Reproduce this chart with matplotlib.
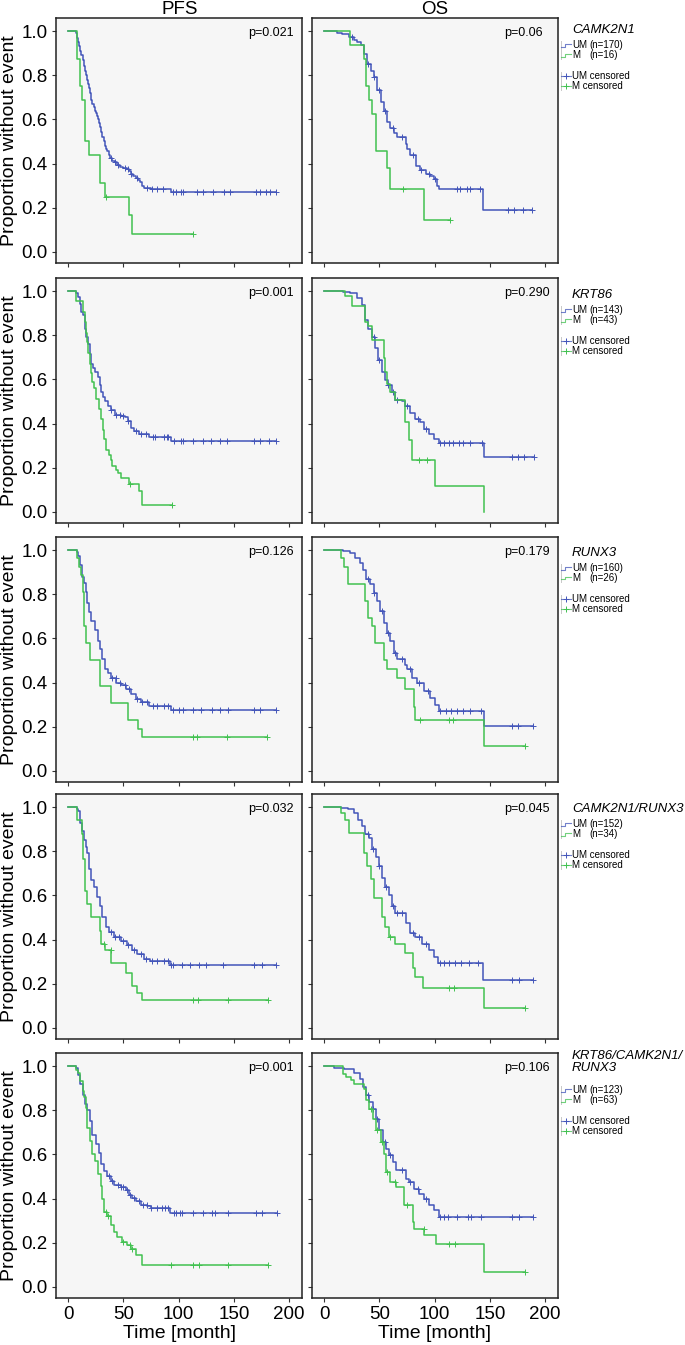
import numpy as np
import matplotlib.pyplot as plt
from matplotlib.lines import Line2D

plt.rcParams['font.family'] = ['Liberation Sans', 'DejaVu Sans']

# values: months, proportion without event
genes = ['CAMK2N1', 'KRT86', 'RUNX3', 'CAMK2N1/RUNX3', 'KRT86/CAMK2N1/\nRUNX3']
n_um = [170, 143, 160, 152, 123]
n_m = [16, 43, 26, 34, 63]
p_pfs = ['p=0.021', 'p=0.001', 'p=0.126', 'p=0.032', 'p=0.001']
p_os = ['p=0.06', 'p=0.290', 'p=0.179', 'p=0.045', 'p=0.106']
x_ticks = [0, 50, 100, 150, 200]
y_ticks = [0.0, 0.2, 0.4, 0.6, 0.8, 1.0]

# row 1: CAMK2N1
pfs1_um_t = [7, 8, 9, 10, 11, 12, 13, 14, 15, 16, 17, 18, 19, 20, 21, 22, 23, 24, 25, 26, 27, 28, 29, 30,
             31, 32, 33, 34, 35, 37, 38, 40, 42, 44, 47, 50, 53, 55, 57, 59, 61, 63, 65, 67, 69, 75, 93]
pfs1_um_s = [0.99, 0.97, 0.95, 0.93, 0.91, 0.89, 0.87, 0.84, 0.82, 0.80, 0.78, 0.76, 0.74, 0.72, 0.69, 0.67,
             0.655, 0.64, 0.63, 0.615, 0.60, 0.585, 0.565, 0.545, 0.52, 0.50, 0.48, 0.465, 0.455, 0.44, 0.425,
             0.41, 0.405, 0.395, 0.385, 0.38, 0.375, 0.365, 0.355, 0.345, 0.335, 0.325, 0.315, 0.30, 0.29,
             0.285, 0.27]
pfs1_um_c = [39, 42, 45, 51, 54, 57, 62, 71, 76, 80, 86, 95, 98, 102, 104, 117, 122, 131, 141, 146,
             170, 174, 179, 183, 188]
pfs1_m_t = [8, 11, 12.6, 15.6, 19, 28.6, 33, 54.7, 57.7]
pfs1_m_s = [0.875, 0.75, 0.6875, 0.5, 0.4375, 0.3125, 0.25, 0.1667, 0.0833]
pfs1_m_c = [34, 113]

os1_um_t = [12, 16.5, 22.6, 27, 30, 33, 36, 39, 42, 45, 48, 51, 54, 57, 60, 63, 66, 74, 75, 78, 83, 87,
            92, 96, 99, 102, 104, 144]
os1_um_s = [0.99, 0.985, 0.975, 0.96, 0.95, 0.935, 0.897, 0.853, 0.82, 0.79, 0.735, 0.68, 0.637, 0.59,
            0.56, 0.54, 0.52, 0.49, 0.464, 0.44, 0.39, 0.373, 0.353, 0.343, 0.328, 0.297, 0.285, 0.19]
os1_um_c = [25, 40, 45, 50, 55, 62, 70, 80, 88, 95, 100, 120, 123, 129, 132, 141, 166, 172, 180, 188]
os1_m_t = [23, 36, 37.5, 40.5, 43.5, 47, 56.5, 60, 90]
os1_m_s = [0.9375, 0.875, 0.75, 0.6875, 0.625, 0.458, 0.38, 0.286, 0.143]
os1_m_c = [71, 114]

# row 2: KRT86
pfs2_um_t = [7.5, 9, 10.5, 12, 13.5, 15, 16.5, 18, 19.5, 21, 22.5, 24, 27, 28.5, 30, 31.5, 33, 36, 39, 42,
             48, 51, 54, 57, 60, 64.5, 73.5, 93]
pfs2_um_s = [0.99, 0.974, 0.94, 0.906, 0.89, 0.83, 0.79, 0.76, 0.717, 0.67, 0.65, 0.635, 0.61, 0.574,
             0.544, 0.52, 0.50, 0.48, 0.46, 0.44, 0.435, 0.43, 0.41, 0.38, 0.366, 0.355, 0.34, 0.322]
pfs2_um_c = [39, 43.5, 46.5, 50, 54, 61.5, 66, 70.5, 76.5, 79, 87, 89, 90, 96, 102, 104, 113, 122, 129,
             137, 144, 168, 174, 182, 188]
pfs2_m_t = [7.5, 13.5, 15, 16, 17, 18, 19.5, 20.5, 21.5, 23, 25.5, 28, 30, 31.5, 32.5, 34, 37, 38.5, 40,
            43, 45, 47.5, 55, 64, 67]
pfs2_m_s = [0.953, 0.907, 0.86, 0.81, 0.77, 0.72, 0.67, 0.63, 0.59, 0.56, 0.51, 0.465, 0.42, 0.37, 0.33,
            0.28, 0.26, 0.235, 0.21, 0.19, 0.175, 0.155, 0.128, 0.093, 0.033]
pfs2_m_c = [56, 94]

os2_um_t = [17.5, 23.5, 29.6, 34, 37, 40, 43, 46, 49, 52, 55, 58, 61, 64, 70, 73, 78, 82, 87, 90, 94.5,
            99, 103.6, 145]
os2_um_s = [0.995, 0.99, 0.967, 0.937, 0.87, 0.83, 0.79, 0.74, 0.687, 0.635, 0.597, 0.574, 0.544, 0.506,
            0.50, 0.48, 0.45, 0.42, 0.405, 0.375, 0.355, 0.332, 0.31, 0.25]
os2_um_c = [45, 50, 58, 62, 66, 75, 85, 92, 105, 108, 112.7, 117, 122, 126, 132, 143, 170, 175, 180.7, 190]
os2_m_t = [19, 25, 37, 40, 43, 54, 55, 57, 60, 64, 73, 76.5, 79.5, 100.6, 144.5]
os2_m_s = [0.977, 0.93, 0.86, 0.84, 0.78, 0.695, 0.635, 0.58, 0.544, 0.506, 0.405, 0.325, 0.234, 0.118, 0.0]
os2_m_c = [85.5, 93]

# row 3: RUNX3
pfs3_um_t = [8, 9, 11, 12.6, 14.4, 16, 17.4, 19, 21, 24, 27, 28.5, 31, 33, 36, 39, 43.5, 48, 52.5, 57,
             61.5, 66, 73.5, 93]
pfs3_um_s = [0.99, 0.973, 0.93, 0.88, 0.85, 0.81, 0.76, 0.72, 0.68, 0.64, 0.59, 0.55, 0.505, 0.46, 0.445,
             0.42, 0.40, 0.39, 0.37, 0.35, 0.325, 0.31, 0.295, 0.276]
pfs3_um_c = [39.5, 43, 47, 51, 55, 62, 66.5, 71, 77, 80, 87, 90, 95, 100, 104, 113, 120, 130, 137, 145,
             168, 174, 188]
pfs3_m_t = [8, 10, 12, 13.5, 14.4, 16.5, 19.5, 29, 39, 54, 63, 67]
pfs3_m_s = [0.962, 0.923, 0.885, 0.808, 0.654, 0.577, 0.5, 0.385, 0.308, 0.231, 0.192, 0.154]
pfs3_m_c = [112.6, 117, 144, 180]

os3_um_t = [14.5, 17.5, 23.5, 28, 32.6, 35.6, 38, 41.7, 44.7, 47.7, 50.8, 53.8, 56.8, 59.8, 62.8, 65.9,
            73, 75, 79.5, 84, 90, 96, 100.6, 103.6, 144.4]
os3_um_s = [0.998, 0.995, 0.985, 0.965, 0.943, 0.91, 0.867, 0.845, 0.807, 0.77, 0.724, 0.67, 0.626, 0.588,
            0.535, 0.508, 0.48, 0.46, 0.42, 0.40, 0.36, 0.33, 0.30, 0.273, 0.204]
os3_um_c = [40, 45, 52, 58, 64, 70, 78, 86, 94, 105, 110, 115, 120, 126, 132, 142, 170, 175, 189]
os3_m_t = [15, 18, 22, 37, 40, 43, 46, 54, 57, 66, 73, 81, 82.5, 144.4]
os3_m_s = [0.962, 0.923, 0.846, 0.769, 0.692, 0.654, 0.577, 0.5, 0.462, 0.423, 0.37, 0.29, 0.23, 0.115]
os3_m_c = [87, 112.7, 117, 182]

# row 4: CAMK2N1/RUNX3
pfs4_um_t = [8, 9, 11, 12.6, 14.4, 16, 17.4, 19, 20.4, 23.4, 26.4, 29, 31, 34, 37, 41.4, 47.4, 53.5, 58,
             62.5, 68.5, 74.5, 92.5]
pfs4_um_s = [0.99, 0.98, 0.927, 0.89, 0.85, 0.82, 0.79, 0.72, 0.67, 0.64, 0.594, 0.55, 0.503, 0.458, 0.435,
             0.412, 0.394, 0.374, 0.352, 0.333, 0.314, 0.303, 0.283]
pfs4_um_c = [39, 42, 46, 50, 54, 60, 66, 70, 76, 80, 87, 90, 93, 95, 103, 110, 118, 125, 140, 168, 175, 188]
pfs4_m_t = [8, 12.3, 13.8, 15.3, 17.4, 20.4, 28.5, 30, 33, 39, 52, 58, 62.5, 67]
pfs4_m_s = [0.941, 0.88, 0.765, 0.618, 0.559, 0.5, 0.441, 0.382, 0.353, 0.294, 0.25, 0.19, 0.16, 0.127]
pfs4_m_c = [32.4, 38.4, 112.6, 117.4, 144.4, 181]

os4_um_t = [14.8, 22, 27, 31, 34.4, 36.8, 40.4, 43.4, 46.5, 49.5, 52.5, 55.5, 58.5, 61.5, 64.5, 74, 78,
            82.6, 88.7, 94.7, 99, 103, 144]
os4_um_s = [0.995, 0.99, 0.973, 0.94, 0.912, 0.88, 0.86, 0.81, 0.776, 0.733, 0.677, 0.64, 0.60, 0.55,
            0.522, 0.473, 0.43, 0.412, 0.382, 0.352, 0.32, 0.294, 0.218]
os4_um_c = [40, 44, 50, 56, 62, 66, 70, 80, 86, 92, 105, 108, 113, 118, 124, 131, 139, 170, 176, 189]
os4_m_t = [14.8, 19.3, 22.3, 36, 39, 42, 45, 52.5, 55.5, 58.5, 64.5, 73.6, 80.5, 82.6, 89.6, 144.5]
os4_m_s = [0.971, 0.941, 0.882, 0.794, 0.735, 0.676, 0.588, 0.5, 0.459, 0.412, 0.382, 0.34, 0.27, 0.23,
           0.182, 0.09]
os4_m_c = [59.4, 112.8, 117.3, 181.6]

# row 5: KRT86/CAMK2N1/RUNX3
pfs5_um_t = [7.5, 9, 10.8, 13, 15, 17.4, 20, 22, 25, 28, 30, 32.5, 35.5, 38.5, 41.5, 47.5, 52, 55, 58, 61,
             65.5, 71.6, 74.6, 92.6]
pfs5_um_s = [0.99, 0.96, 0.92, 0.87, 0.83, 0.80, 0.75, 0.69, 0.645, 0.607, 0.555, 0.523, 0.50, 0.48, 0.46,
             0.453, 0.44, 0.418, 0.403, 0.388, 0.373, 0.365, 0.358, 0.335]
pfs5_um_c = [37, 40, 45, 48, 50, 53, 56, 60, 64, 68, 71, 75, 80, 85, 88, 90, 96, 98, 101, 103, 113, 122,
             130, 133, 145, 170, 175, 189]
pfs5_m_t = [7.5, 9, 10.8, 13, 14.4, 16, 17.4, 19.5, 22, 24, 27, 30, 31, 32.5, 35, 38.5, 41.5, 44.5, 49,
            53.5, 56.5, 61, 67]
pfs5_m_s = [0.984, 0.97, 0.93, 0.887, 0.86, 0.81, 0.72, 0.66, 0.60, 0.57, 0.51, 0.455, 0.40, 0.34, 0.32,
            0.28, 0.25, 0.227, 0.205, 0.19, 0.17, 0.146, 0.098]
pfs5_m_c = [34, 36, 49.5, 56, 58, 93, 113, 118, 145, 181]

os5_um_t = [9, 18, 27, 32, 35, 38, 41, 44, 47, 50, 53, 56, 59, 62, 65, 74, 77, 81.6, 86, 90.6, 95, 99.7, 104]
os5_um_s = [0.99, 0.985, 0.97, 0.943, 0.905, 0.867, 0.837, 0.807, 0.76, 0.71, 0.656, 0.626, 0.596, 0.566,
            0.528, 0.49, 0.475, 0.445, 0.42, 0.40, 0.37, 0.347, 0.317]
os5_um_c = [40, 44, 48, 55, 60, 70, 78, 85, 92, 105, 108, 112, 120, 130, 133, 142, 170, 176, 189]
os5_m_t = [16.6, 19.6, 24, 27, 36, 38, 41, 44, 47, 51, 54, 56, 60, 65, 72.5, 80, 81.6, 90.6, 101, 145]
os5_m_s = [0.965, 0.95, 0.935, 0.92, 0.897, 0.845, 0.807, 0.76, 0.71, 0.656, 0.603, 0.52, 0.475, 0.452,
           0.37, 0.294, 0.264, 0.234, 0.196, 0.068]
os5_m_c = [42, 47.5, 52, 56.5, 64, 75, 90, 113, 118, 182]

pfs_um = [(pfs1_um_t, pfs1_um_s, pfs1_um_c), (pfs2_um_t, pfs2_um_s, pfs2_um_c), (pfs3_um_t, pfs3_um_s, pfs3_um_c),
          (pfs4_um_t, pfs4_um_s, pfs4_um_c), (pfs5_um_t, pfs5_um_s, pfs5_um_c)]
pfs_m = [(pfs1_m_t, pfs1_m_s, pfs1_m_c), (pfs2_m_t, pfs2_m_s, pfs2_m_c), (pfs3_m_t, pfs3_m_s, pfs3_m_c),
         (pfs4_m_t, pfs4_m_s, pfs4_m_c), (pfs5_m_t, pfs5_m_s, pfs5_m_c)]
os_um = [(os1_um_t, os1_um_s, os1_um_c), (os2_um_t, os2_um_s, os2_um_c), (os3_um_t, os3_um_s, os3_um_c),
         (os4_um_t, os4_um_s, os4_um_c), (os5_um_t, os5_um_s, os5_um_c)]
os_m = [(os1_m_t, os1_m_s, os1_m_c), (os2_m_t, os2_m_s, os2_m_c), (os3_m_t, os3_m_s, os3_m_c),
        (os4_m_t, os4_m_s, os4_m_c), (os5_m_t, os5_m_s, os5_m_c)]

BLUE = '#4355b9'
GREEN = '#41c150'
W, H = 685, 1345


def fx(px):
    return px / W


def fy(py):
    return 1 - py / H


def km(ax, t, s, cens, color):
    t = np.asarray(t, float)
    s = np.asarray(s, float)
    cens = np.asarray(cens, float)
    end = max(t[-1], cens.max())
    ax.step(np.r_[0, t, end], np.r_[1, s, s[-1]], where='post', color=color, lw=1.1)
    idx = np.searchsorted(t, cens, side='right') - 1
    cy = np.where(idx >= 0, s[np.clip(idx, 0, None)], 1.0)
    ax.plot(cens, cy, ls='none', marker='+', ms=4, mew=0.7, color=color)


fig = plt.figure(figsize=(W / 100, H / 100), dpi=100)

col_left = [56, 312]
row_top = [18, 278, 537, 794, 1053]
ax_w, ax_h = 246, 245

for r in range(5):
    for c in range(2):
        ax = fig.add_axes([fx(col_left[c]), fy(row_top[r] + ax_h), ax_w / W, ax_h / H])
        ax.set_facecolor('#f6f6f6')
        um, m = (pfs_um[r], pfs_m[r]) if c == 0 else (os_um[r], os_m[r])
        km(ax, *um, BLUE)
        km(ax, *m, GREEN)
        ax.set_xlim(-11, 211.6)
        ax.set_ylim(-0.05, 1.059)
        ax.set_xticks(x_ticks)
        ax.set_yticks(y_ticks)
        ax.set_yticklabels([f'{v:.1f}' for v in y_ticks])
        ax.tick_params(direction='out', length=3, width=0.8, color='#333333', labelsize=13.5, pad=3,
                       labelbottom=(r == 4), labelleft=(c == 0))
        for sp in ax.spines.values():
            sp.set_color('#222222')
            sp.set_linewidth(1.1)
        ax.text(0.78, 0.94, (p_pfs if c == 0 else p_os)[r], transform=ax.transAxes,
                ha='left', va='center', fontsize=9)
    # y label
    fig.text(fx(10), fy(row_top[r] + ax_h / 2), 'Proportion without event', rotation=90,
             ha='center', va='center', fontsize=14)

# column titles and x labels
fig.text(fx(180), fy(9), 'PFS', ha='center', va='center', fontsize=13.5)
fig.text(fx(435), fy(9), 'OS', ha='center', va='center', fontsize=13.5)
fig.text(fx(179), fy(1333), 'Time [month]', ha='center', va='center', fontsize=14)
fig.text(fx(435), fy(1333), 'Time [month]', ha='center', va='center', fontsize=14)

# legends beside the OS panels
gene_dy = [12, 17, 16, 15, 9]
for r in range(5):
    top = row_top[r]
    y0 = top + gene_dy[r]
    fig.text(fx(572), fy(y0), genes[r], style='italic', ha='left', va='center', fontsize=9.5,
             linespacing=1.0)
    if '\n' in genes[r]:
        y0 += 13
    y_um, y_m, y_umc, y_mc = y0 + 15, y0 + 25, y0 + 46, y0 + 56
    for ya, yb in [(y_um - 4, y_m + 4), (y_umc - 4, y_mc + 4)]:
        fig.add_artist(Line2D([fx(560.5), fx(560.5)], [fy(ya), fy(yb)], color='#c8c8c8', lw=0.7))
    for yy, col in [(y_um, BLUE), (y_m, GREEN)]:
        fig.add_artist(Line2D([fx(561), fx(565), fx(565), fx(571)],
                              [fy(yy + 1.5), fy(yy + 1.5), fy(yy - 1.5), fy(yy - 1.5)],
                              color=col, lw=0.8, alpha=0.75))
    for yy, col in [(y_umc, BLUE), (y_mc, GREEN)]:
        fig.add_artist(Line2D([fx(561), fx(571)], [fy(yy), fy(yy)], color=col, lw=0.8, alpha=0.75))
        fig.add_artist(Line2D([fx(565.5)], [fy(yy)], marker='+', ms=4, mew=0.7, color=col))
    fig.text(fx(572), fy(y_um), 'UM', ha='left', va='center', fontsize=7)
    fig.text(fx(589), fy(y_um), f'(n={n_um[r]})', ha='left', va='center', fontsize=7)
    fig.text(fx(572), fy(y_m), 'M', ha='left', va='center', fontsize=7)
    fig.text(fx(589), fy(y_m), f'(n={n_m[r]})', ha='left', va='center', fontsize=7)
    fig.text(fx(572), fy(y_umc), 'UM censored', ha='left', va='center', fontsize=7)
    fig.text(fx(572), fy(y_mc), 'M censored', ha='left', va='center', fontsize=7)

fig.savefig('out.png', dpi=100)
